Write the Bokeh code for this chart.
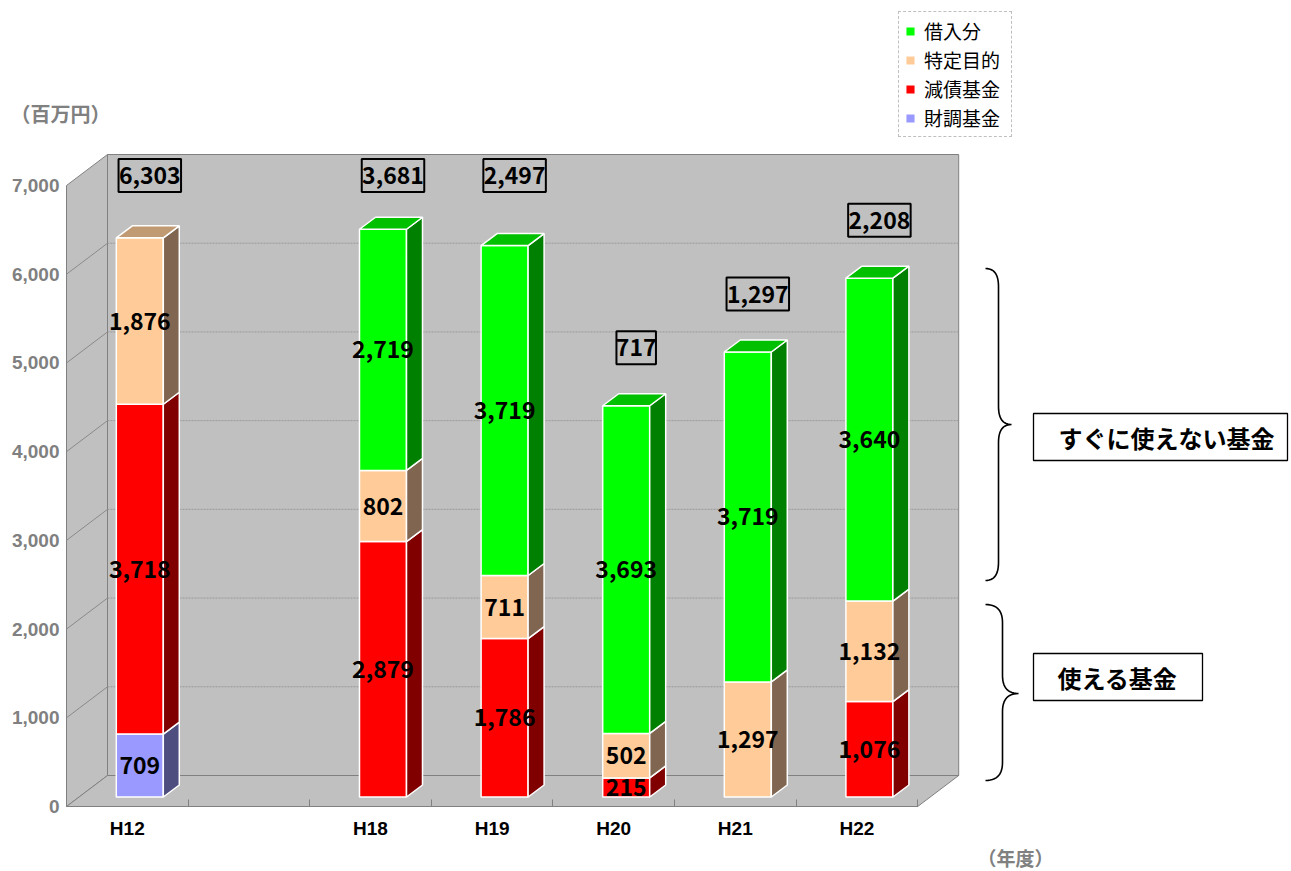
import numpy as np
from bokeh.plotting import figure
from bokeh.models import Range1d, FixedTicker, NumeralTickFormatter, Label, Legend, LegendItem
from bokeh.core.properties import value
from bokeh.embed import file_html
from bokeh.resources import INLINE

# ---------------- data ----------------
categories = ["H12", "", "H18", "H19", "H20", "H21", "H22"]
zaicho  = [709, 0, 0, 0, 0, 0, 0]              # 財調基金
gensai  = [3718, 0, 2879, 1786, 215, 0, 1076]  # 減債基金
tokutei = [1876, 0, 802, 711, 502, 1297, 1132] # 特定目的
kariire = [0, 0, 2719, 3719, 3693, 3719, 3640] # 借入分
series_names = ["財調基金", "減債基金", "特定目的", "借入分"]
legend_order = ["借入分", "特定目的", "減債基金", "財調基金"]
y_ticks = [0, 1000, 2000, 3000, 4000, 5000, 6000, 7000]
unit_y = "（百万円）"
unit_x = "（年度）"
note_top = "すぐに使えない基金"
note_bottom = "使える基金"

# ---------------- styles ----------------
colors = {
    "財調基金": ("#9999FF", "#4D4D80", "#7A7ACC"),
    "減債基金": ("#FF0000", "#800000", "#C00000"),
    "特定目的": ("#FFCC99", "#806650", "#C09A73"),
    "借入分":   ("#00FF00", "#008000", "#00C000"),
}
JP = "Noto Sans CJK JP"
W, H = 1290, 870
ORIG_X, ORIG_Y = 66, 806    # canvas pixel position of the data origin
PX_SLOT = 121.6             # pixels per category slot
PX_UNIT = 621.0 / 7000.0    # pixels per 1 (百万円)


def dxp(px):
    return px / PX_SLOT


def dyp(px):
    return px / PX_UNIT


def px2x(px):   # canvas pixel -> data x (annotations only)
    return (px - ORIG_X) / PX_SLOT


def px2y(py):   # canvas pixel -> data y (annotations only)
    return (ORIG_Y - py) / PX_UNIT


n = len(categories)
FLOOR_DX, FLOOR_DY = dxp(41), dyp(31)
BAR_W = dxp(47)
BAR_DX, BAR_DY = dxp(16), dyp(12)
FRONT_DX, FRONT_DY = dxp(12.5), dyp(9.5)

p = figure(width=W, height=H, output_backend="svg", toolbar_location=None, title=None,
           x_range=Range1d(-ORIG_X / PX_SLOT, (W - ORIG_X) / PX_SLOT),
           y_range=Range1d(-(H - ORIG_Y) / PX_UNIT, ORIG_Y / PX_UNIT),
           min_border_left=0, min_border_bottom=0,
           min_border_top=0, min_border_right=0)
p.outline_line_color = None
p.background_fill_color = "white"
p.border_fill_color = "white"
p.xgrid.grid_line_color = None
p.ygrid.grid_line_color = None

# ---------------- 3D box (walls & floor) ----------------
top = y_ticks[-1]
wall_fill, wall_line = "#C0C0C0", "#808080"
p.patches(
    xs=[[0, 0, FLOOR_DX, FLOOR_DX],
        [FLOOR_DX, FLOOR_DX, n + FLOOR_DX, n + FLOOR_DX],
        [0, n, n + FLOOR_DX, FLOOR_DX]],
    ys=[[0, top, top + FLOOR_DY, FLOOR_DY],
        [FLOOR_DY, top + FLOOR_DY, top + FLOOR_DY, FLOOR_DY],
        [0, 0, FLOOR_DY, FLOOR_DY]],
    fill_color=wall_fill, line_color=wall_line, line_width=1)
gv = y_ticks[1:-1]
p.multi_line(xs=[[FLOOR_DX, n + FLOOR_DX] for _ in gv],
             ys=[[v + FLOOR_DY, v + FLOOR_DY] for v in gv],
             line_color="#999999", line_width=1, line_dash="2 1")
p.multi_line(xs=[[0, FLOOR_DX] for _ in gv],
             ys=[[v, v + FLOOR_DY] for v in gv],
             line_color="#8A8A8A", line_width=1)

# ---------------- bars ----------------
idx = np.arange(n)
front_l = idx + 0.5 + FRONT_DX - BAR_W / 2
front_r = front_l + BAR_W
stack = {"財調基金": zaicho, "減債基金": gensai, "特定目的": tokutei, "借入分": kariire}
bottoms = np.zeros(n)
top_series = [None] * n
renderers = {}
lab_x, lab_y, lab_t = [], [], []
for name in series_names:
    vals = np.array(stack[name], dtype=float)
    m = vals > 0
    cf, cs, ct = colors[name]
    y0 = FRONT_DY + bottoms[m]
    y1 = y0 + vals[m]
    r = p.quad(left=front_l[m], right=front_r[m], bottom=y0, top=y1,
               fill_color=cf, line_color="white", line_width=1.5)
    renderers[name] = r
    xr = front_r[m]
    p.patches(xs=[[a, a, a + BAR_DX, a + BAR_DX] for a in xr],
              ys=[[b0, b1, b1 + BAR_DY, b0 + BAR_DY] for b0, b1 in zip(y0, y1)],
              fill_color=cs, line_color="white", line_width=1.5)
    for i, b0, b1 in zip(idx[m], y0, y1):
        lab_x.append(front_l[i] + BAR_W / 2)
        lab_y.append((b0 + b1) / 2)
        lab_t.append(f"{int(stack[name][i]):,}")
        top_series[i] = name
    bottoms[m] += vals[m]

tx, ty, tc = [], [], []
for i in range(n):
    if top_series[i] is None:
        continue
    T = FRONT_DY + bottoms[i]
    tx.append([front_l[i], front_r[i], front_r[i] + BAR_DX, front_l[i] + BAR_DX])
    ty.append([T, T, T + BAR_DY, T + BAR_DY])
    tc.append(colors[top_series[i]][2])
p.patches(xs=tx, ys=ty, fill_color=tc, line_color="white", line_width=1.5)

p.text(x=lab_x, y=lab_y, text=lab_t, text_align="center", text_baseline="middle",
       text_font=value(JP), text_font_style="bold", text_font_size="23px",
       text_color="black")

# totals of usable funds (財調+減債+特定)
usable = np.array(zaicho) + np.array(gensai) + np.array(tokutei)
ceil_y = top + dyp(10)
bx, by, bt, bw = [], [], [], []
for i in range(n):
    if usable[i] <= 0:
        continue
    yy = FRONT_DY + bottoms[i] + dyp(58)
    if yy > top - dyp(6):
        yy = ceil_y
    bx.append(front_l[i] + BAR_W / 2 + dxp(10))
    by.append(yy)
    t = f"{int(usable[i]):,}"
    bt.append(t)
    bw.append(len(t) * 11.5 + 5)
p.rect(x=bx, y=by, width=bw, height=33, width_units="screen", height_units="screen",
       fill_color=None, line_color="black", line_width=2)
p.text(x=bx, y=by, text=bt, text_align="center", text_baseline="middle",
       text_font=value(JP), text_font_style="bold", text_font_size="23px",
       text_color="black")

# ---------------- axes ----------------
p.yaxis.fixed_location = 0
p.yaxis.ticker = FixedTicker(ticks=y_ticks)
p.yaxis.formatter = NumeralTickFormatter(format="0,0")
p.yaxis.axis_line_color = None
p.yaxis.major_tick_line_color = None
p.yaxis.major_tick_out = 0
p.yaxis.major_tick_in = 0
p.yaxis.minor_tick_line_color = None
p.yaxis.minor_tick_out = 0
p.yaxis.major_label_standoff = 7
p.yaxis.major_label_text_color = "#808080"
p.yaxis.major_label_text_font = "Liberation Sans"
p.yaxis.major_label_text_font_style = "bold"
p.yaxis.major_label_text_font_size = "19px"

centers = [i + 0.5 for i in range(n)]
p.xaxis.fixed_location = 0
p.xaxis.ticker = FixedTicker(ticks=centers, minor_ticks=list(range(1, n + 1)))
p.xaxis.major_label_overrides = {c: lab for c, lab in zip(centers, categories)}
p.xaxis.axis_line_color = None
p.xaxis.major_tick_line_color = None
p.xaxis.major_tick_out = 0
p.xaxis.major_tick_in = 0
p.xaxis.minor_tick_line_color = "#808080"
p.xaxis.minor_tick_in = 7
p.xaxis.minor_tick_out = 0
p.xaxis.major_label_standoff = 11
p.xaxis.major_label_text_color = "black"
p.xaxis.major_label_text_font = "Liberation Sans"
p.xaxis.major_label_text_font_style = "bold"
p.xaxis.major_label_text_font_size = "19px"

# floor front line (axis line)
p.line(x=[0, n], y=[0, 0], line_color="#808080", line_width=1)

# ---------------- legend ----------------
legend = Legend(items=[LegendItem(label=nm, renderers=[renderers[nm]]) for nm in legend_order],
                location=(898, H - 137), orientation="vertical",
                glyph_width=12, glyph_height=12, label_height=20, label_width=82,
                spacing=2, padding=5, margin=0, label_standoff=8,
                label_text_font=JP, label_text_font_size="19px", label_text_color="black",
                border_line_color="#808080", border_line_dash="1 1",
                background_fill_color="white")
p.add_layout(legend)

# ---------------- annotations ----------------
p.add_layout(Label(x=px2x(60), y=px2y(113), text=unit_y, text_align="center",
                   text_baseline="middle", text_font=JP, text_font_style="bold",
                   text_font_size="20px", text_color="#808080"))
p.add_layout(Label(x=px2x(1015), y=px2y(857), text=unit_x, text_align="center",
                   text_baseline="middle", text_font=JP, text_font_style="bold",
                   text_font_size="19px", text_color="#808080"))


def qbez(p0, c, p1, k=14):
    t = np.linspace(0, 1, k)
    xs = (1 - t) ** 2 * p0[0] + 2 * (1 - t) * t * c[0] + t ** 2 * p1[0]
    ys = (1 - t) ** 2 * p0[1] + 2 * (1 - t) * t * c[1] + t ** 2 * p1[1]
    return list(xs), list(ys)


def brace(xh, xs_, xt, yt, ym, yb, r=18):
    X, Y = [], []
    for seg in [((xh, yt), (xs_, yt), (xs_, yt + r)),
                ((xs_, ym - r), (xs_, ym), (xt, ym)),
                ((xt, ym), (xs_, ym), (xs_, ym + r)),
                ((xs_, yb - r), (xs_, yb), (xh, yb))]:
        a, b = qbez(*seg)
        X += a
        Y += b
    return [px2x(v) for v in X], [px2y(v) for v in Y]


for args in [(985, 998, 1011, 268, 424, 580), (985, 1002, 1018, 604, 693, 780)]:
    bx_, by_ = brace(*args)
    p.line(x=bx_, y=by_, line_color="black", line_width=1.6)

for (l, r_, t_, b_, cx, cy, txt) in [(1033, 1287, 413, 460, 1166, 437, note_top),
                                     (1033, 1202, 653, 700, 1117, 677, note_bottom)]:
    p.quad(left=px2x(l), right=px2x(r_), top=px2y(t_), bottom=px2y(b_),
           fill_color="white", line_color="black", line_width=1.3)
    p.add_layout(Label(x=px2x(cx), y=px2y(cy), text=txt, text_align="center",
                       text_baseline="middle", text_font=JP, text_font_style="bold",
                       text_font_size="24px", text_color="black"))

open("out.html", "w").write(file_html(p, INLINE))
